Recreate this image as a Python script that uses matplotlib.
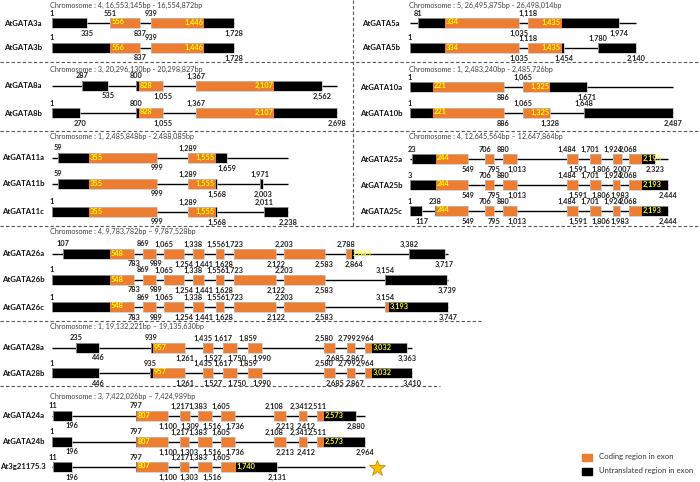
import matplotlib

matplotlib.use("Agg")
import matplotlib.pyplot as plt

plt.rcParams['font.family'] = ['Lato', 'DejaVu Sans']

ORANGE = "#ED7D31"
UTR = "#000000"
YELLOW = "#FFFF00"

# ---- exon coordinates (bp, relative to gene start) ----
AtGATA3a = [(1, 335), (551, 837), (939, 1728)]
AtGATA3b = [(1, 837), (939, 1728)]
AtGATA5a = [(81, 1035), (1118, 1974)]
AtGATA5b = [(1, 1035), (1118, 1454), (1780, 2140)]
AtGATA8a = [(287, 535), (800, 1055), (1367, 2562)]
AtGATA8b = [(1, 270), (800, 1055), (1367, 2698)]
AtGATA10a = [(1, 886), (1065, 1671)]
AtGATA10b = [(1, 886), (1065, 1328), (1648, 2487)]
AtGATA11a = [(59, 999), (1289, 1659)]
AtGATA11b = [(59, 999), (1289, 1568), (1971, 2003)]
AtGATA11c = [(1, 999), (1289, 1568), (2011, 2238)]
AtGATA25a = [(23, 549), (706, 795), (880, 1013), (1484, 1591), (1701, 1806),
             (1924, 2007), (2068, 2323)]
AtGATA25b = [(3, 549), (706, 795), (880, 1013), (1484, 1591), (1701, 1806),
             (1924, 1983), (2068, 2444)]
AtGATA25c = [(1, 117), (238, 549), (706, 795), (880, 1013), (1484, 1591),
             (1701, 1806), (1924, 1983), (2068, 2444)]
AtGATA26a = [(107, 783), (869, 989), (1065, 1254), (1338, 1441), (1556, 1628),
             (1723, 2122), (2203, 2583), (2788, 2864), (3382, 3717)]
AtGATA26b = [(1, 783), (869, 989), (1065, 1254), (1338, 1441), (1556, 1628),
             (1723, 2122), (2203, 2583), (3154, 3739)]
AtGATA26c = [(1, 783), (869, 989), (1065, 1254), (1338, 1441), (1556, 1628),
             (1723, 2122), (2203, 2583), (3154, 3747)]
AtGATA28a = [(235, 446), (939, 1261), (1435, 1527), (1617, 1750), (1859, 1990),
             (2580, 2685), (2799, 2867), (2964, 3363)]
AtGATA28b = [(1, 446), (935, 1261), (1435, 1527), (1617, 1750), (1859, 1990),
             (2580, 2685), (2799, 2867), (2964, 3410)]
AtGATA24a = [(11, 196), (797, 1100), (1217, 1309), (1383, 1516), (1605, 1736),
             (2108, 2213), (2341, 2412), (2511, 2880)]
AtGATA24b = [(1, 196), (797, 1100), (1217, 1303), (1383, 1516), (1605, 1736),
             (2108, 2213), (2341, 2412), (2511, 2964)]
At3g21175_3 = [(11, 196), (797, 1100), (1217, 1303), (1383, 1516), (1605, 2131)]

NAMES = ["AtGATA3a", "AtGATA3b", "AtGATA5a", "AtGATA5b", "AtGATA8a", "AtGATA8b",
         "AtGATA10a", "AtGATA10b", "AtGATA11a", "AtGATA11b", "AtGATA11c",
         "AtGATA25a", "AtGATA25b", "AtGATA25c", "AtGATA26a", "AtGATA26b",
         "AtGATA26c", "AtGATA28a", "AtGATA28b", "AtGATA24a", "AtGATA24b",
         "At3g21175.3"]
EXONS = [AtGATA3a, AtGATA3b, AtGATA5a, AtGATA5b, AtGATA8a, AtGATA8b,
         AtGATA10a, AtGATA10b, AtGATA11a, AtGATA11b, AtGATA11c,
         AtGATA25a, AtGATA25b, AtGATA25c, AtGATA26a, AtGATA26b, AtGATA26c,
         AtGATA28a, AtGATA28b, AtGATA24a, AtGATA24b, At3g21175_3]
CDS_START = [556, 556, 334, 334, 828, 828, 221, 221, 355, 355, 355,
             244, 244, 244, 548, 548, 548, 957, 957, 807, 807, 807]
CDS_END = [1446, 1446, 1435, 1435, 2107, 2107, 1325, 1325, 1555, 1555, 1555,
           2193, 2193, 2193, 2843, 2843, 3193, 3032, 3032, 2573, 2573, 1740]

# ---- gene groups ----
GROUP_TITLES = [
    "Chromosome : 4, 16,553,145bp - 16,554,872bp",
    "Chromosome : 5, 26,495,875bp - 26,498,014bp",
    "Chromosome : 3, 20,296,130bp - 20,298,827bp",
    "Chromosome : 1, 2,483,240bp - 2,485,726bp",
    "Chromosome : 1, 2,485,848bp - 2,488,085bp",
    "Chromosome : 4, 12,645,564bp \u2013 12,647,864bp",
    "Chromosome : 4, 9,783,782bp \u2013 9,787,528bp",
    "Chromosome : 1, 19,132,221bp \u2013 19,135,630bp",
    "Chromosome : 3, 7,422,026bp \u2013 7,424,989bp",
]
GROUP_MEMBERS = [[0, 1], [2, 3], [4, 5], [6, 7], [8, 9, 10], [11, 12, 13],
                 [14, 15, 16], [17, 18], [19, 20, 21]]

# ---- layout (pixels) ----
GROUP_COL = ["L", "R", "L", "R", "L", "R", "L", "L", "L"]
GROUP_TITLE_Y = [5, 5, 69, 69, 136, 136, 231, 326, 396]
GROUP_ROW_Y = [[23, 48], [23, 48], [86, 113], [87, 113], [158, 184, 212],
               [159, 185, 211], [254, 280, 307], [348, 373], [416, 442, 467]]
END_LABEL_AFTER = [False, False, False, False, False, True, True, True, True]
COL_OFFSET = {"L": 0, "R": 3390}
NAME_X = {"L": 23, "R": 381}
TITLE_X = {"L": 50, "R": 409}
BOX_H = 10.4

fig = plt.figure(figsize=(7, 4.82), dpi=100)
lay = fig.add_axes([0, 0, 1, 1])
lay.set_xlim(0, 700)
lay.set_ylim(482, 0)
lay.axis("off")

ax = fig.add_axes([0, 0, 1, 1], zorder=2)
ax.patch.set_alpha(0)
ax.set_xlim(-488, 6134)
ax.set_ylim(482, 0)
ax.axis("off")

num_kw = dict(fontsize=5.3, fontweight="bold", color="#1f1f1f", ha="center", va="center")
cds_kw = dict(fontsize=5.3, fontweight="bold", color=YELLOW, va="center", zorder=4)
pad = 8

for g, members in enumerate(GROUP_MEMBERS):
    col = GROUP_COL[g]
    off = COL_OFFSET[col]
    extent = max(e for i in members for _, e in EXONS[i])
    lay.text(TITLE_X[col], GROUP_TITLE_Y[g], GROUP_TITLES[g], fontsize=5.2,
             color="#404040", ha="left", va="center")
    for i, y in zip(members, GROUP_ROW_Y[g]):
        cs, ce = CDS_START[i], CDS_END[i]
        lay.text(NAME_X[col], y, NAMES[i], fontsize=5.6, fontweight="bold",
                 color="#111111", ha="center", va="center")
        ax.hlines(y, 1 + off, extent + off, color="black", lw=1.0, zorder=1)
        for s, e in EXONS[i]:
            parts = [(s, min(e, max(s, cs)), UTR),
                     (max(s, cs), min(e, ce), ORANGE),
                     (max(s, min(e, ce)), e, UTR)]
            for a, b, c in parts:
                if b > a:
                    ax.barh(y, b - a, left=a + off, height=BOX_H, color=c,
                            lw=0, zorder=2)
            ax.barh(y, e - s, left=s + off, height=BOX_H, fill=False,
                    edgecolor="#c0c0c0", lw=0.5, zorder=3)
            ax.text(s + off, y - 10, f"{s:,}", **num_kw)
            ax.text(e + off, y + 10, f"{e:,}", **num_kw)
            if s <= cs <= e:
                ax.text(cs + off + pad, y - 1, f"{cs:,}", ha="left", **cds_kw)
            if s <= ce <= e:
                if END_LABEL_AFTER[g]:
                    ax.text(ce + off + pad, y - 1, f"{ce:,}", ha="left", **cds_kw)
                else:
                    ax.text(ce + off - pad, y - 1, f"{ce:,}", ha="right", **cds_kw)

# separators
dash = dict(color="#555555", lw=0.8, ls=(0, (3, 2)))
for y, x1 in [(62, 700), (131, 700), (226, 700), (321, 482), (386, 440)]:
    lay.plot([0, x1], [y, y], **dash)
lay.plot([353, 353], [0, 226], **dash)

# star marking the non-canonical transcript
lay.plot(377, 468, marker="*", markersize=12, color="#FFC000",
         markeredgecolor="#C58A00", markeredgewidth=0.6)

# legend
for y, c, t in [(457, ORANGE, "Coding region in exon"),
                (471, UTR, "Untranslated region in exon")]:
    lay.add_patch(plt.Rectangle((582, y - 3.5), 10, 7, color=c))
    lay.text(599, y, t, fontsize=5.6, color="#333333", ha="left", va="center")

fig.savefig("out.png", dpi=100)
